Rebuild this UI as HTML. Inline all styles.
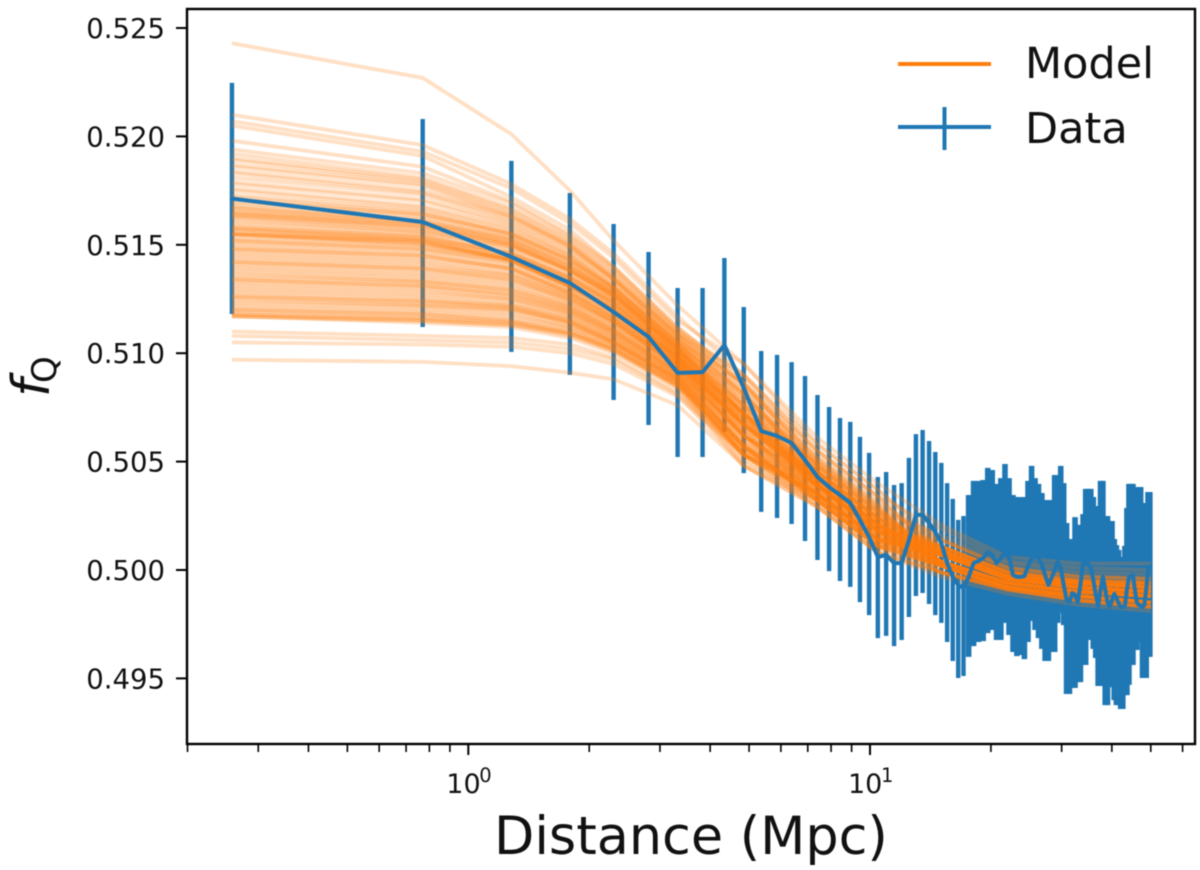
<!DOCTYPE html>
<html lang="en">
<head>
<meta charset="utf-8">
<title>fQ versus distance</title>
<style>
html,body{margin:0;padding:0;background:#fff;width:1200px;height:870px;overflow:hidden}
svg{display:block;font-family:"DejaVu Sans","Liberation Sans",sans-serif;filter:blur(.45px)}
text{fill:#111}
</style>
</head>
<body>
<svg id="chart" xmlns="http://www.w3.org/2000/svg" width="1200" height="870" viewBox="0 0 1200 870">
  <rect x="187" y="9" width="1008" height="735" fill="#fff"/>
  <g id="errorBars"></g>
  <g id="modelLines"></g>
  <polyline id="meanLine" fill="none" stroke="#1f77b4" stroke-width="4" stroke-linejoin="round" stroke-linecap="square"></polyline>
  <g id="axes">
    <rect x="187" y="9" width="1008" height="735" fill="none" stroke="#000" stroke-width="2.4"/>
  </g>
  <g id="xTicks"></g>
  <g id="yTicks"></g>
  <text x="494" y="854" font-size="52.4">Distance (Mpc)</text>
  <g>
    <text transform="translate(49,397) rotate(-90)" font-size="52" font-style="italic">f</text>
    <text transform="translate(56,383) rotate(-90)" font-size="34">Q</text>
  </g>
  <g>
    <g>
      <line x1="898" y1="64" x2="991" y2="64" stroke="#ff7f0e" stroke-width="4"/>
      <text x="1025" y="78" font-size="43">Model</text>
    </g>
    <g>
      <line x1="898" y1="127" x2="991" y2="127" stroke="#1f77b4" stroke-width="4"/>
      <line x1="944.5" y1="107" x2="944.5" y2="150" stroke="#1f77b4" stroke-width="4"/>
      <text x="1025" y="143" font-size="43">Data</text>
    </g>
  </g>
</svg>
<script>
const dataDistances = [0.258,0.77,1.28,1.79,2.30,2.81,3.32,3.83,4.34,4.85,5.36,5.87,6.38,6.89,7.40,7.91,8.42,8.93,9.44,9.95,
10.46,10.97,11.48,11.99,12.50,13.01,13.52,14.03,14.54,15.05,15.56,16.07,16.58,17.09,17.60,18.11,18.62,19.13,19.64,20.15,
20.66,21.17,21.68,22.19,22.70,23.21,23.72,24.23,24.74,25.25,25.76,26.27,26.78,27.29,27.80,28.31,28.82,29.33,29.84,30.35,
30.86,31.37,31.88,32.39,32.90,33.41,33.92,34.43,34.94,35.45,35.96,36.47,36.98,37.49,38.00,38.51,39.02,39.53,40.04,40.55,
41.06,41.57,42.08,42.59,43.10,43.61,44.12,44.63,45.14,45.65,46.16,46.67,47.18,47.69,48.20,48.71,49.22,49.73];

const dataMean = [.51713,.51605,.51444,.51324,.5119,.51075,.50909,.50913,.51038,.5084,.50641,.50618,.50586,.50507,.50429,.50383,.50346,.50309,.50231,.50152,
.5006,.50069,.50032,.50032,.50138,.50254,.50254,.50217,.50175,.50125,.50032,.49968,.49931,.49917,.49968,.50032,.50042,.50055,.50083,.50069,
.50032,.50055,.50078,.5006,.49977,.49968,.49968,.49972,.50018,.50055,.50065,.50055,.50023,.49977,.49931,.49963,.5,.50037,.50009,.49931,
.49862,.49852,.49894,.49885,.49852,.49931,.50032,.50032,.50028,.50009,.49954,.49889,.49834,.49908,.49968,.49908,.49852,.49829,.49862,.49889,
.49871,.49848,.49829,.49829,.49834,.49908,.49968,.49972,.49977,.49908,.49852,.49839,.49834,.49829,.49839,.49908,.5,.50014];

const dataUpper = [.52247,.5208,.51887,.51739,.51596,.51467,.51301,.51301,.51439,.51213,.5101,.50992,.50959,.50895,.50807,.50752,.50701,.50683,.50614,.5054,
.50429,.50452,.50392,.50401,.50517,.50627,.50646,.50595,.50544,.50494,.50401,.50328,.50231,.50249,.50346,.50411,.50411,.50415,.50471,.50461,
.50397,.50424,.50489,.50424,.50346,.50337,.50337,.50337,.50411,.5048,.50424,.50397,.50355,.50323,.50323,.50323,.50438,.50438,.5048,.50401,
.50217,.50143,.50143,.50244,.50208,.50208,.50258,.50374,.50374,.50374,.50337,.50295,.50231,.50411,.50411,.50249,.50249,.50226,.50226,.50143,
.50115,.50092,.5006,.5006,.50111,.50286,.50397,.50397,.50397,.50314,.50383,.50383,.50383,.50309,.50309,.50277,.5036,.5036];

const dataLower = [.51181,.51121,.51006,.509,.50784,.50669,.50521,.50521,.50637,.50447,.50268,.5024,.50212,.50134,.50046,.49995,.49949,.49922,.49852,.49792,
.49686,.49696,.49649,.49677,.49783,.4988,.49894,.49843,.49792,.49756,.49668,.4958,.49502,.49511,.49599,.49649,.49668,.49672,.49709,.49723,
.49677,.49677,.49756,.497,.49622,.49603,.49608,.49589,.49668,.49765,.49723,.49686,.49636,.4958,.4958,.49622,.49622,.49756,.49802,.49746,
.49428,.49428,.49456,.49456,.49483,.49483,.49562,.49562,.49677,.49677,.49636,.49594,.49465,.49465,.4952,.49377,.49377,.4946,.4946,.494,
.49377,.49377,.49359,.49359,.49423,.49423,.4947,.49562,.49562,.49631,.49631,.49668,.49668,.49502,.49502,.49502,.49599,.49599];

const modelDistances = [0.258,0.77,1.28,1.79,2.30,3.32,4.85,7.40,10.46,15,22,33,50];

const modelCurves = [
[.5243,.5227,.5201,.5175,.5152,.5122,.5095,.5058,.5037,.5011,.4999,.4995,.4994],
[.5210,.5196,.5178,.5162,.5146,.5117,.5090,.5055,.5034,.5007,.4996,.4992,.4990],
[.5207,.5193,.5176,.5160,.5144,.5115,.5095,.5061,.5040,.5021,.5006,.5003,.5003],
[.5205,.5191,.5172,.5157,.5140,.5112,.5086,.5051,.5030,.5002,.4992,.4988,.4985],
[.5194,.5183,.5169,.5154,.5139,.5111,.5090,.5058,.5037,.5014,.5001,.4997,.4996],
[.5192,.5181,.5167,.5153,.5138,.5110,.5086,.5048,.5027,.5004,.4994,.4990,.4988],
[.5189,.5179,.5165,.5151,.5136,.5109,.5090,.5055,.5034,.5009,.4997,.4994,.4992],
[.5186,.5177,.5163,.5150,.5135,.5108,.5081,.5045,.5024,.4999,.4991,.4986,.4983],
[.5183,.5174,.5162,.5149,.5134,.5108,.5086,.5051,.5030,.5011,.4999,.4995,.4994],
[.5181,.5173,.5161,.5148,.5134,.5107,.5081,.5048,.5027,.5007,.4996,.4992,.4990],
[.5178,.5170,.5159,.5146,.5132,.5106,.5086,.5055,.5034,.5019,.5004,.5001,.5000],
[.5176,.5168,.5158,.5145,.5131,.5105,.5081,.5045,.5024,.5004,.4994,.4990,.4988],
[.5173,.5166,.5156,.5144,.5130,.5105,.5076,.5042,.5021,.5002,.4992,.4988,.4985],
[.5171,.5164,.5155,.5143,.5130,.5104,.5081,.5048,.5027,.5009,.4997,.4994,.4992],
[.5168,.5162,.5153,.5141,.5128,.5103,.5076,.5045,.5024,.5007,.4996,.4992,.4990],
[.5167,.5161,.5152,.5140,.5128,.5103,.5072,.5039,.5018,.4999,.4991,.4986,.4983],
[.5165,.5159,.5151,.5139,.5127,.5102,.5076,.5048,.5027,.5014,.5001,.4997,.4996],
[.5164,.5158,.5150,.5138,.5126,.5102,.5072,.5042,.5021,.5004,.4994,.4990,.4988],
[.5163,.5157,.5149,.5138,.5126,.5101,.5076,.5045,.5024,.5009,.4997,.4994,.4992],
[.5162,.5156,.5149,.5137,.5125,.5101,.5072,.5042,.5021,.5002,.4992,.4988,.4985],
[.5160,.5155,.5147,.5135,.5124,.5100,.5072,.5045,.5024,.5011,.4999,.4995,.4994],
[.5158,.5153,.5146,.5134,.5123,.5099,.5072,.5039,.5018,.5004,.4994,.4990,.4988],
[.5157,.5152,.5145,.5133,.5122,.5099,.5067,.5042,.5021,.5007,.4996,.4992,.4990],
[.5155,.5151,.5143,.5131,.5121,.5098,.5072,.5045,.5024,.5009,.4997,.4994,.4992],
[.5155,.5151,.5143,.5132,.5120,.5098,.5067,.5039,.5018,.5002,.4992,.4988,.4985],
[.5154,.5150,.5143,.5131,.5120,.5098,.5067,.5042,.5021,.5011,.4999,.4995,.4994],
[.5152,.5148,.5142,.5130,.5119,.5097,.5067,.5039,.5018,.5004,.4994,.4990,.4988],
[.5151,.5147,.5141,.5130,.5119,.5097,.5072,.5042,.5021,.5007,.4996,.4992,.4990],
[.5149,.5145,.5139,.5128,.5117,.5096,.5067,.5045,.5024,.5009,.4997,.4994,.4992],
[.5148,.5144,.5139,.5128,.5117,.5096,.5062,.5035,.5014,.4999,.4991,.4986,.4983],
[.5146,.5142,.5137,.5127,.5116,.5095,.5067,.5039,.5018,.5014,.5001,.4997,.4996],
[.5145,.5141,.5136,.5126,.5115,.5095,.5067,.5042,.5021,.5004,.4994,.4990,.4988],
[.5143,.5139,.5135,.5125,.5115,.5095,.5062,.5039,.5018,.5007,.4996,.4992,.4990],
[.5142,.5138,.5134,.5125,.5114,.5094,.5062,.5035,.5014,.5002,.4992,.4988,.4985],
[.5140,.5136,.5132,.5123,.5113,.5094,.5067,.5039,.5018,.5009,.4997,.4994,.4992],
[.5138,.5134,.5130,.5122,.5112,.5093,.5062,.5039,.5018,.5004,.4994,.4990,.4988],
[.5137,.5133,.5129,.5121,.5111,.5092,.5062,.5035,.5014,.5011,.4999,.4995,.4994],
[.5135,.5132,.5128,.5120,.5110,.5092,.5057,.5035,.5014,.5007,.4996,.4992,.4990],
[.5134,.5131,.5127,.5119,.5110,.5091,.5062,.5042,.5021,.5002,.4992,.4988,.4985],
[.5133,.5130,.5126,.5119,.5109,.5091,.5057,.5032,.5011,.5009,.4997,.4994,.4992],
[.5131,.5128,.5125,.5118,.5108,.5090,.5062,.5039,.5018,.5004,.4994,.4990,.4988],
[.5130,.5127,.5124,.5117,.5108,.5090,.5057,.5035,.5014,.5007,.4996,.4992,.4990],
[.5129,.5126,.5123,.5116,.5107,.5089,.5057,.5039,.5018,.5004,.4994,.4990,.4988],
[.5127,.5124,.5122,.5115,.5106,.5089,.5057,.5032,.5011,.4999,.4991,.4986,.4983],
[.5126,.5123,.5121,.5114,.5105,.5088,.5053,.5035,.5014,.5007,.4996,.4992,.4990],
[.5124,.5122,.5120,.5114,.5105,.5088,.5057,.5032,.5011,.5004,.4994,.4990,.4988],
[.5123,.5121,.5119,.5113,.5105,.5087,.5053,.5032,.5011,.5002,.4992,.4988,.4985],
[.5121,.5119,.5117,.5112,.5104,.5087,.5053,.5035,.5014,.5009,.4997,.4994,.4992],
[.5120,.5118,.5116,.5111,.5103,.5086,.5057,.5035,.5014,.5004,.4994,.4990,.4988],
[.5119,.5117,.5115,.5110,.5102,.5086,.5053,.5039,.5018,.5011,.4999,.4995,.4994],
[.5118,.5116,.5114,.5109,.5102,.5085,.5053,.5029,.5008,.4999,.4991,.4986,.4983],
[.5117,.5115,.5113,.5108,.5101,.5085,.5053,.5032,.5011,.5002,.4992,.4988,.4985],
[.5117,.5115,.5113,.5109,.5101,.5084,.5048,.5029,.5008,.4997,.4989,.4984,.4981],
[.5110,.5108,.5107,.5104,.5098,.5082,.5053,.5032,.5011,.5004,.4994,.4990,.4988],
[.5108,.5106,.5105,.5102,.5097,.5081,.5048,.5032,.5011,.5002,.4992,.4988,.4985],
[.5105,.5104,.5103,.5100,.5095,.5080,.5053,.5035,.5014,.5007,.4996,.4992,.4990],
[.5097,.5096,.5094,.5091,.5088,.5076,.5048,.5029,.5008,.4999,.4991,.4986,.4983],
[.5198,.5186,.5170,.5155,.5140,.5112,.5088,.5053,.5032,.5009,.4997,.4994,.4992],
[.5187,.5178,.5164,.5150,.5135,.5109,.5085,.5050,.5029,.5007,.4996,.4992,.4990],
[.5179,.5171,.5160,.5147,.5133,.5106,.5083,.5049,.5028,.5004,.4994,.4990,.4988],
[.5175,.5167,.5157,.5145,.5131,.5106,.5079,.5047,.5026,.5011,.4999,.4995,.4994],
[.5172,.5165,.5155,.5143,.5130,.5105,.5078,.5046,.5025,.5007,.4996,.4992,.4990],
[.5169,.5163,.5154,.5142,.5129,.5104,.5079,.5050,.5029,.5002,.4992,.4988,.4985],
[.5167,.5161,.5153,.5141,.5128,.5103,.5074,.5043,.5022,.5009,.4997,.4994,.4992],
[.5166,.5160,.5152,.5140,.5128,.5103,.5075,.5044,.5023,.5004,.4994,.4990,.4988],
[.5165,.5160,.5151,.5139,.5127,.5102,.5073,.5041,.5020,.5007,.4996,.4992,.4990],
[.5163,.5158,.5150,.5138,.5127,.5102,.5070,.5040,.5019,.5011,.4999,.4995,.4994],
[.5161,.5156,.5148,.5136,.5125,.5101,.5074,.5046,.5025,.5004,.4994,.4990,.4988],
[.5159,.5154,.5146,.5135,.5124,.5100,.5069,.5038,.5017,.5009,.4997,.4994,.4992],
[.5157,.5153,.5145,.5134,.5123,.5099,.5073,.5043,.5022,.5002,.4992,.4988,.4985],
[.5156,.5152,.5144,.5133,.5122,.5099,.5070,.5041,.5020,.5007,.4996,.4992,.4990],
[.5155,.5152,.5143,.5131,.5120,.5098,.5069,.5043,.5022,.5004,.4994,.4990,.4988],
[.5155,.5150,.5144,.5132,.5121,.5098,.5064,.5036,.5015,.5009,.4997,.4994,.4992],
[.5153,.5149,.5143,.5131,.5120,.5097,.5069,.5040,.5019,.4999,.4991,.4986,.4983],
[.5150,.5146,.5140,.5129,.5118,.5096,.5065,.5038,.5017,.5007,.4996,.4992,.4990],
[.5147,.5143,.5138,.5127,.5116,.5095,.5070,.5044,.5023,.5004,.4994,.4990,.4988],
[.5144,.5140,.5136,.5126,.5115,.5094,.5060,.5033,.5012,.5002,.4992,.4988,.4985],
[.5141,.5137,.5133,.5124,.5114,.5094,.5065,.5040,.5019,.5011,.4999,.4995,.4994],
[.5139,.5135,.5131,.5122,.5112,.5093,.5059,.5036,.5015,.5007,.4996,.4992,.4990],
[.5136,.5133,.5129,.5121,.5111,.5092,.5064,.5038,.5017,.5004,.4994,.4990,.4988],
[.5132,.5129,.5125,.5118,.5109,.5090,.5055,.5034,.5013,.5009,.4997,.4994,.4992],
[.5128,.5125,.5122,.5116,.5107,.5089,.5059,.5037,.5016,.5002,.4992,.4988,.4985],
[.5125,.5122,.5120,.5114,.5105,.5088,.5054,.5033,.5012,.5007,.4996,.4992,.4990],
[.5122,.5120,.5118,.5112,.5104,.5087,.5055,.5036,.5015,.5004,.4994,.4990,.4988],
[.5120,.5118,.5115,.5110,.5103,.5086,.5051,.5031,.5010,.5002,.4992,.4988,.4985],
[.5118,.5116,.5114,.5109,.5102,.5085,.5055,.5034,.5013,.5009,.4997,.4994,.4992],
[.5117,.5114,.5112,.5107,.5100,.5084,.5050,.5030,.5009,.4999,.4991,.4986,.4983],
[.5190,.5180,.5166,.5152,.5137,.5110,.5084,.5052,.5031,.5014,.5001,.4997,.4996],
[.5184,.5175,.5163,.5149,.5134,.5108,.5082,.5047,.5026,.5007,.4996,.4992,.4990],
[.5170,.5164,.5155,.5143,.5130,.5104,.5077,.5049,.5028,.5016,.5003,.4999,.4998],
[.5164,.5159,.5150,.5138,.5126,.5101,.5071,.5041,.5020,.5004,.4994,.4990,.4988],
[.5158,.5154,.5146,.5135,.5123,.5100,.5068,.5042,.5021,.5009,.4997,.4994,.4992],
[.5152,.5148,.5142,.5131,.5119,.5097,.5063,.5037,.5016,.5002,.4992,.4988,.4985],
[.5148,.5145,.5139,.5128,.5117,.5096,.5066,.5041,.5020,.5007,.4996,.4992,.4990],
[.5142,.5139,.5134,.5124,.5114,.5094,.5061,.5037,.5016,.5004,.4994,.4990,.4988],
[.5134,.5131,.5127,.5120,.5110,.5091,.5058,.5033,.5012,.5007,.4996,.4992,.4990],
[.5126,.5124,.5121,.5115,.5106,.5088,.5056,.5034,.5013,.5002,.4992,.4988,.4985]
];

const yTickValues = [0.495,0.500,0.505,0.510,0.515,0.520,0.525];
const yTickLabels = ["0.495","0.500","0.505","0.510","0.515","0.520","0.525"];
const xMajorValues = [1,10];
const xMajorExponents = ["0","1"];
const xMinorValues = [0.2,0.3,0.4,0.5,0.6,0.7,0.8,0.9,2,3,4,5,6,7,8,9,20,30,40,50,60];

const NS = "http://www.w3.org/2000/svg";
function xScale(d){ return 468.3 + 401.7 * Math.log10(d); }
function yScale(v){ return 570 - (v - 0.5) * 21680; }
function mk(tag, attrs, parent){
  const el = document.createElementNS(NS, tag);
  for (const k in attrs) el.setAttribute(k, attrs[k]);
  parent.appendChild(el);
  return el;
}

const errorBars = document.getElementById('errorBars');
dataDistances.forEach(function(d, i){
  const x = xScale(d);
  const bar = mk('line', {x1:x, x2:x, y1:yScale(dataUpper[i]), y2:yScale(dataLower[i]), stroke:'#1f77b4', 'stroke-width':d > 17.5 ? 5.6 : 4.4}, errorBars);
  
  
});

const modelLines = document.getElementById('modelLines');
modelCurves.forEach(function(curve){
  const pts = curve.map(function(v, i){ return xScale(modelDistances[i]).toFixed(1) + ',' + yScale(v).toFixed(1); }).join(' ');
  const line = mk('polyline', {points:pts, fill:'none', stroke:'#ff7f0e', 'stroke-width':3.8, 'stroke-opacity':0.24, 'stroke-linejoin':'round'}, modelLines);
  
  
});

document.getElementById('meanLine').setAttribute('points', dataDistances.map(function(d, i){
  return xScale(d).toFixed(1) + ',' + yScale(dataMean[i]).toFixed(1);
}).join(' '));

const yTicks = document.getElementById('yTicks');
yTickValues.forEach(function(v, i){
  const y = yScale(v);
  const tick = mk('line', {x1:176, x2:187, y1:y, y2:y, stroke:'#000', 'stroke-width':2}, yTicks);
  
  
  const label = mk('text', {x:165, y:y + 10, 'text-anchor':'end', 'font-size':27.5}, yTicks);
  label.textContent = yTickLabels[i];
  
  
});

const xTicks = document.getElementById('xTicks');
xMinorValues.forEach(function(d){
  const x = xScale(d);
  const tick = mk('line', {x1:x, x2:x, y1:744, y2:752, stroke:'#000', 'stroke-width':1.6}, xTicks);
  
  
});
xMajorValues.forEach(function(d, i){
  const x = xScale(d);
  const tick = mk('line', {x1:x, x2:x, y1:744, y2:755, stroke:'#000', 'stroke-width':2}, xTicks);
  
  
  const base = mk('text', {x:x - 22, y:793, 'font-size':27}, xTicks);
  base.textContent = '10';
  
  
  const exp = mk('text', {x:x + 11, y:782, 'font-size':19.5}, xTicks);
  exp.textContent = xMajorExponents[i];
  
  
});
</script>
</body>
</html>
